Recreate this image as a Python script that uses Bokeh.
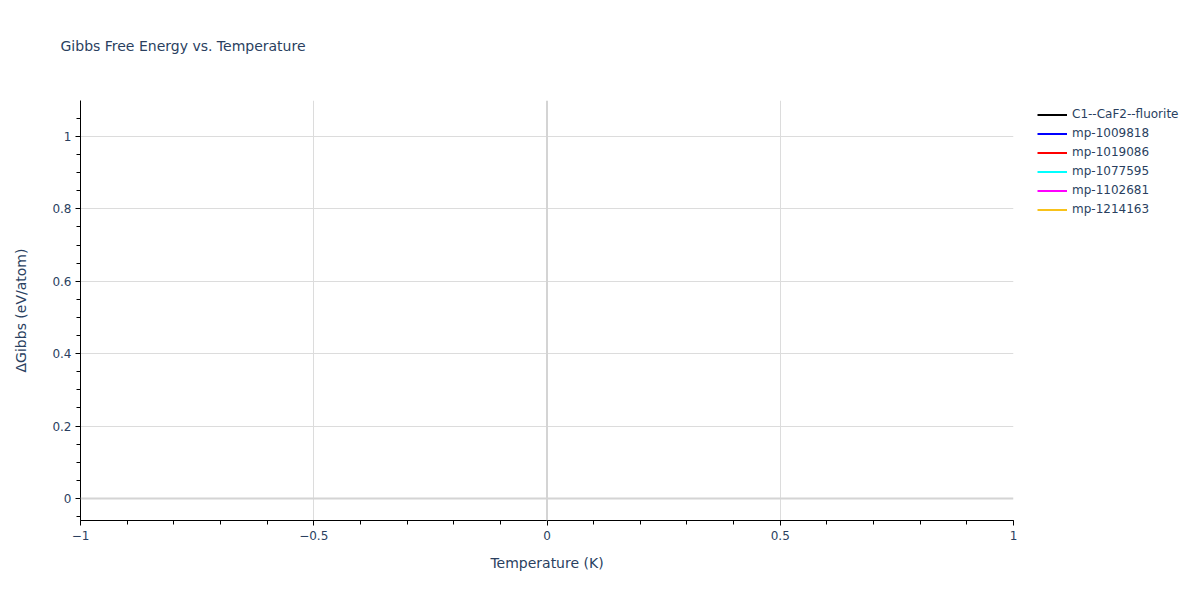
from bokeh.embed import file_html
from bokeh.resources import INLINE
from bokeh.layouts import row
from bokeh.models import (ColumnDataSource, Range1d, FixedTicker, Span, Title,
                          Legend, LegendItem)
from bokeh.plotting import figure

# data: every series is a single point at T = 0, so no line shows in the plot
names = ["C1--CaF2--fluorite", "mp-1009818", "mp-1019086",
         "mp-1077595", "mp-1102681", "mp-1214163"]
colors = ["black", "blue", "red", "cyan", "magenta", "#f8c21a"]
temperature = [0]
gibbs = [0]

x_ticks = [-1, -0.5, 0, 0.5, 1]
x_tick_labels = ["\u22121", "\u22120.5", "0", "0.5", "1"]
x_minor = [-1 + 0.1 * i for i in range(21)]
y_ticks = [0, 0.2, 0.4, 0.6, 0.8, 1]
y_tick_labels = ["0", "0.2", "0.4", "0.6", "0.8", "1"]
y_minor = [-0.05 + 0.05 * i for i in range(23)]

FONT = "DejaVu Sans"
TXT = "#2a3f5f"

p = figure(width=1023, height=584, output_backend="svg",
           toolbar_location=None, tools="",
           x_range=Range1d(-1, 1), y_range=Range1d(-0.0608, 1.0994),
           min_border_left=80, min_border_top=100, min_border_right=10,
           min_border_bottom=64)
p.outline_line_color = None
p.background_fill_color = "white"

# title, pushed up by a blank title next to the frame
p.add_layout(Title(text=" ", text_font_size="1px", standoff=39), "above")
p.add_layout(Title(text="Gibbs Free Energy vs. Temperature", text_font=FONT,
                   text_font_size="14px", text_font_style="normal",
                   text_color=TXT, offset=-20), "above")

# axes
p.xaxis.ticker = FixedTicker(ticks=x_ticks, minor_ticks=x_minor)
p.xaxis.major_label_overrides = dict(zip(x_ticks, x_tick_labels))
p.yaxis.ticker = FixedTicker(ticks=y_ticks, minor_ticks=y_minor)
p.yaxis.major_label_overrides = dict(zip(y_ticks, y_tick_labels))
for ax in (p.xaxis, p.yaxis):
    ax.axis_line_color = "black"
    ax.major_tick_line_color = "black"
    ax.minor_tick_line_color = "black"
    ax.major_tick_in = 0
    ax.major_tick_out = 5
    ax.minor_tick_in = 0
    ax.minor_tick_out = 4
    ax.major_label_text_font = FONT
    ax.major_label_text_font_size = "12px"
    ax.major_label_text_color = TXT
    ax.axis_label_text_font = FONT
    ax.axis_label_text_font_size = "14px"
    ax.axis_label_text_font_style = "normal"
    ax.axis_label_text_color = TXT
p.xaxis.axis_label = "Temperature (K)"
p.yaxis.axis_label = "\u0394Gibbs (eV/atom)"
p.xaxis.major_label_standoff = 5
p.xaxis.axis_label_standoff = 12
p.yaxis.major_label_standoff = 4
p.yaxis.axis_label_standoff = 20

# grid
p.xgrid.ticker = FixedTicker(ticks=[-0.5, 0.5])
p.ygrid.ticker = FixedTicker(ticks=[0.2, 0.4, 0.6, 0.8, 1])
p.grid.grid_line_color = "#dcdcdc"
p.grid.grid_line_width = 1
p.add_layout(Span(location=0, dimension="height", line_color="#d4d4d4", line_width=2))
p.add_layout(Span(location=0, dimension="width", line_color="#d4d4d4", line_width=2))

# legend lives in its own narrow figure to the right of the plot
leg_fig = figure(width=161, height=584, output_backend="svg",
                 toolbar_location=None, tools="",
                 x_axis_type=None, y_axis_type=None,
                 x_range=Range1d(-1, 1), y_range=Range1d(-0.0608, 1.0994),
                 min_border=0)
leg_fig.outline_line_color = None
leg_fig.grid.visible = False

items = []
for n, c in zip(names, colors):
    src = ColumnDataSource(dict(x=temperature, y=gibbs))
    p.line("x", "y", source=src, line_color=c, line_width=2)
    r = leg_fig.line("x", "y", source=src, line_color=c, line_width=2)
    items.append(LegendItem(label=n, renderers=[r]))

# frame of leg_fig is aligned with the main frame (420 px high)
legend = Legend(items=items, location=(14, 301.5), padding=0, margin=0,
                border_line_color=None, background_fill_alpha=0,
                glyph_width=30, glyph_height=19, label_height=19,
                label_standoff=5, spacing=0,
                label_text_font=FONT, label_text_font_size="12px",
                label_text_color=TXT)
leg_fig.add_layout(legend)

layout = row(p, leg_fig)
open("out.html", "w").write(file_html(layout, INLINE))
